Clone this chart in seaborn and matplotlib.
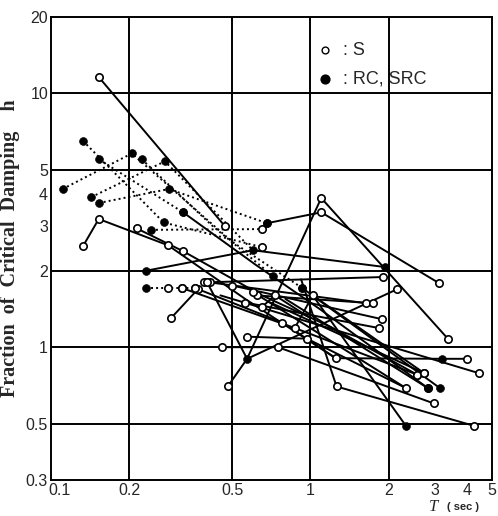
import matplotlib
matplotlib.use("Agg")
import matplotlib.pyplot as plt
import matplotlib.transforms as mtransforms
import pandas as pd
import seaborn as sns

# each series: periods T (sec), damping h (%), marker per point (o open, f filled, n none), line style
series_T = [
    [0.153, 0.468],
    [0.133, 0.153, 0.283, 0.56, 1.25, 3.2, 4.0],
    [0.214, 0.323, 0.65, 1.2, 2.57],
    [0.48, 0.57, 1.10, 3.38],
    [0.243, 0.65],
    [0.153, 0.285, 0.68],
    [0.68, 1.10, 3.12],
    [0.111, 0.205, 0.5, 0.93],
    [0.133, 0.272, 0.65],
    [0.153, 0.323],
    [0.323, 0.62, 1.1, 2.83],
    [0.143, 0.275, 0.60],
    [0.224, 0.42, 0.72],
    [0.232, 0.60, 1.93],
    [0.232, 0.283, 0.32, 0.36],
    [0.39, 1.90],
    [0.29, 0.37],
    [0.57, 2.15],
    [0.41, 1.64],
    [0.62, 1.74],
    [0.5, 1.88],
    [0.56, 1.83],
    [0.45, 4.45],
    [0.7, 2.74],
    [0.6, 2.33],
    [0.8, 2.83],
    [0.93, 3.15],
    [0.456, 0.75, 2.99],
    [0.92, 1.26, 4.26],
    [1.02, 2.33],
    [0.57, 0.97, 2.33],
    [0.40, 0.57],
    [0.32, 0.87, 2.57],
    [0.36, 0.78, 1.25],
    [0.65, 0.73, 1.0],
    [0.87, 1.02, 2.74],
]
series_h = [
    [11.6, 3.0],
    [2.5, 3.2, 2.52, 1.55, 0.905, 0.90, 0.90],
    [2.94, 2.39, 1.6, 1.2, 0.78],
    [0.70, 0.90, 3.87, 1.08],
    [2.9, 2.92],
    [3.7, 4.2, 3.08],
    [3.08, 3.4, 1.79],
    [4.2, 5.8, 2.6, 1.71],
    [6.5, 3.1, 2.48],
    [5.5, 3.4],
    [3.4, 2.1, 1.4, 0.69],
    [3.9, 5.4, 2.41],
    [5.5, 3.0, 1.9],
    [2.0, 2.41, 2.07],
    [1.71, 1.71, 1.71, 1.71],
    [1.8, 1.89],
    [1.30, 1.70],
    [0.90, 1.69],
    [1.8, 1.49],
    [1.6, 1.49],
    [1.75, 1.29],
    [1.5, 1.19],
    [1.6, 0.79],
    [1.5, 0.79],
    [1.65, 0.69],
    [1.55, 0.69],
    [1.71, 0.69],
    [1.0, 1.0, 0.60],
    [1.85, 0.70, 0.49],
    [1.6, 0.49],
    [1.1, 1.08, 0.69],
    [1.8, 0.90],
    [1.71, 1.19, 0.78],
    [1.71, 1.25, 0.905],
    [1.44, 1.6, 1.3],
    [1.19, 1.6, 0.79],
]
series_pt = [
    "oo", "ooonofo", "oonno", "ofoo", "fo", "fff", "foo", "ffnf", "ffo", "ff",
    "fnnf", "fff", "fnf", "fnf", "fooo", "oo", "oo", "no", "oo", "oo",
    "oo", "oo", "no", "no", "oo", "no", "ff", "ooo", "noo", "of",
    "oon", "on", "ono", "oon", "oon", "ono",
]
series_ls = [
    "solid", "solid", "solid", "solid", "dotted", "dotted", "solid", "dotted", "dotted", "dotted",
    "solid", "dotted", "dotted", "solid", "dotted", "solid", "solid", "solid", "solid", "solid",
    "solid", "solid", "solid", "solid", "solid", "solid", "solid", "solid", "solid", "solid",
    "solid", "solid", "solid", "solid", "solid", "solid",
]

x_ticks = [0.1, 0.2, 0.5, 1, 2, 3, 4, 5]
x_tick_labels = ["0.1", "0.2", "0.5", "1", "2", "3", "4", "5"]
y_ticks = [0.3, 0.5, 1, 2, 3, 4, 5, 10, 20]
y_tick_labels = ["0.3", "0.5", "1", "2", "3", "4", "5", "10", "20"]
x_grid = [0.2, 0.5, 1, 2]
y_grid = [0.5, 1, 2, 5, 10]

rows = []
for i, (ts, hs, pts, ls) in enumerate(zip(series_T, series_h, series_pt, series_ls)):
    for t, h, p in zip(ts, hs, pts):
        rows.append({"sid": i, "T": t, "h": h, "pt": p, "ls": ls})
df = pd.DataFrame(rows)

sns.set_style("white")
plt.rcParams["font.family"] = ["Liberation Sans", "DejaVu Sans"]

fig = plt.figure(figsize=(4.98, 5.16), dpi=100)
ax = fig.add_axes([0.102, 0.070, 0.886, 0.897])
ax.set_xscale("log")
ax.set_yscale("log")

for v in x_grid:
    ax.axvline(v, color="black", lw=1.4, zorder=1)
for v in y_grid:
    ax.axhline(v, color="black", lw=1.4, zorder=1)

sns.lineplot(data=df, x="T", y="h", units="sid", estimator=None, sort=False,
             style="ls", dashes={"solid": "", "dotted": (1, 1.6)},
             color="black", linewidth=1.4, legend=False, ax=ax, zorder=2)

opn = df[df["pt"] == "o"]
fil = df[df["pt"] == "f"]
sns.scatterplot(data=opn, x="T", y="h", marker="o", s=28, facecolor="white",
                edgecolor="black", linewidth=1.2, ax=ax, zorder=3)
sns.scatterplot(data=fil, x="T", y="h", marker="o", s=32, color="black",
                edgecolor="black", ax=ax, zorder=3)

ax.set_xlim(0.1, 5)
ax.set_ylim(0.3, 20)
ax.minorticks_off()
ax.set_xticks(x_ticks)
ax.set_xticklabels(x_tick_labels, fontsize=11.5)
ax.set_yticks(y_ticks)
ax.set_yticklabels(y_tick_labels, fontsize=11.5)
ax.tick_params(axis="both", length=0, pad=2)
# nudge the corner labels apart a little, as in the original
shift = mtransforms.ScaledTranslation(6 / 72, 0, fig.dpi_scale_trans)
first = ax.get_xticklabels()[0]
first.set_transform(first.get_transform() + shift)
ax.set_xlabel("")
ax.set_ylabel("Fraction  of  Critical  Damping    h", fontsize=14.5, fontweight="bold",
              family="Liberation Serif")
ax.yaxis.set_label_coords(-0.07, 0.5)
for sp in ax.spines.values():
    sp.set_color("black")
    sp.set_linewidth(1.4)

ax.scatter([0.622], [0.928], transform=ax.transAxes, s=24, facecolor="white",
           edgecolor="black", linewidth=1.0, clip_on=False)
ax.scatter([0.622], [0.866], transform=ax.transAxes, s=40, color="black", clip_on=False)
ax.text(0.662, 0.928, ": S", transform=ax.transAxes, fontsize=13, va="center")
ax.text(0.662, 0.866, ": RC, SRC", transform=ax.transAxes, fontsize=13, va="center")

fig.text(0.862, 0.010, "T", fontsize=12, style="italic", family="Liberation Serif")
fig.text(0.898, 0.012, "( sec )", fontsize=8, fontweight="bold")

fig.savefig("out.png", dpi=100, facecolor="white")
